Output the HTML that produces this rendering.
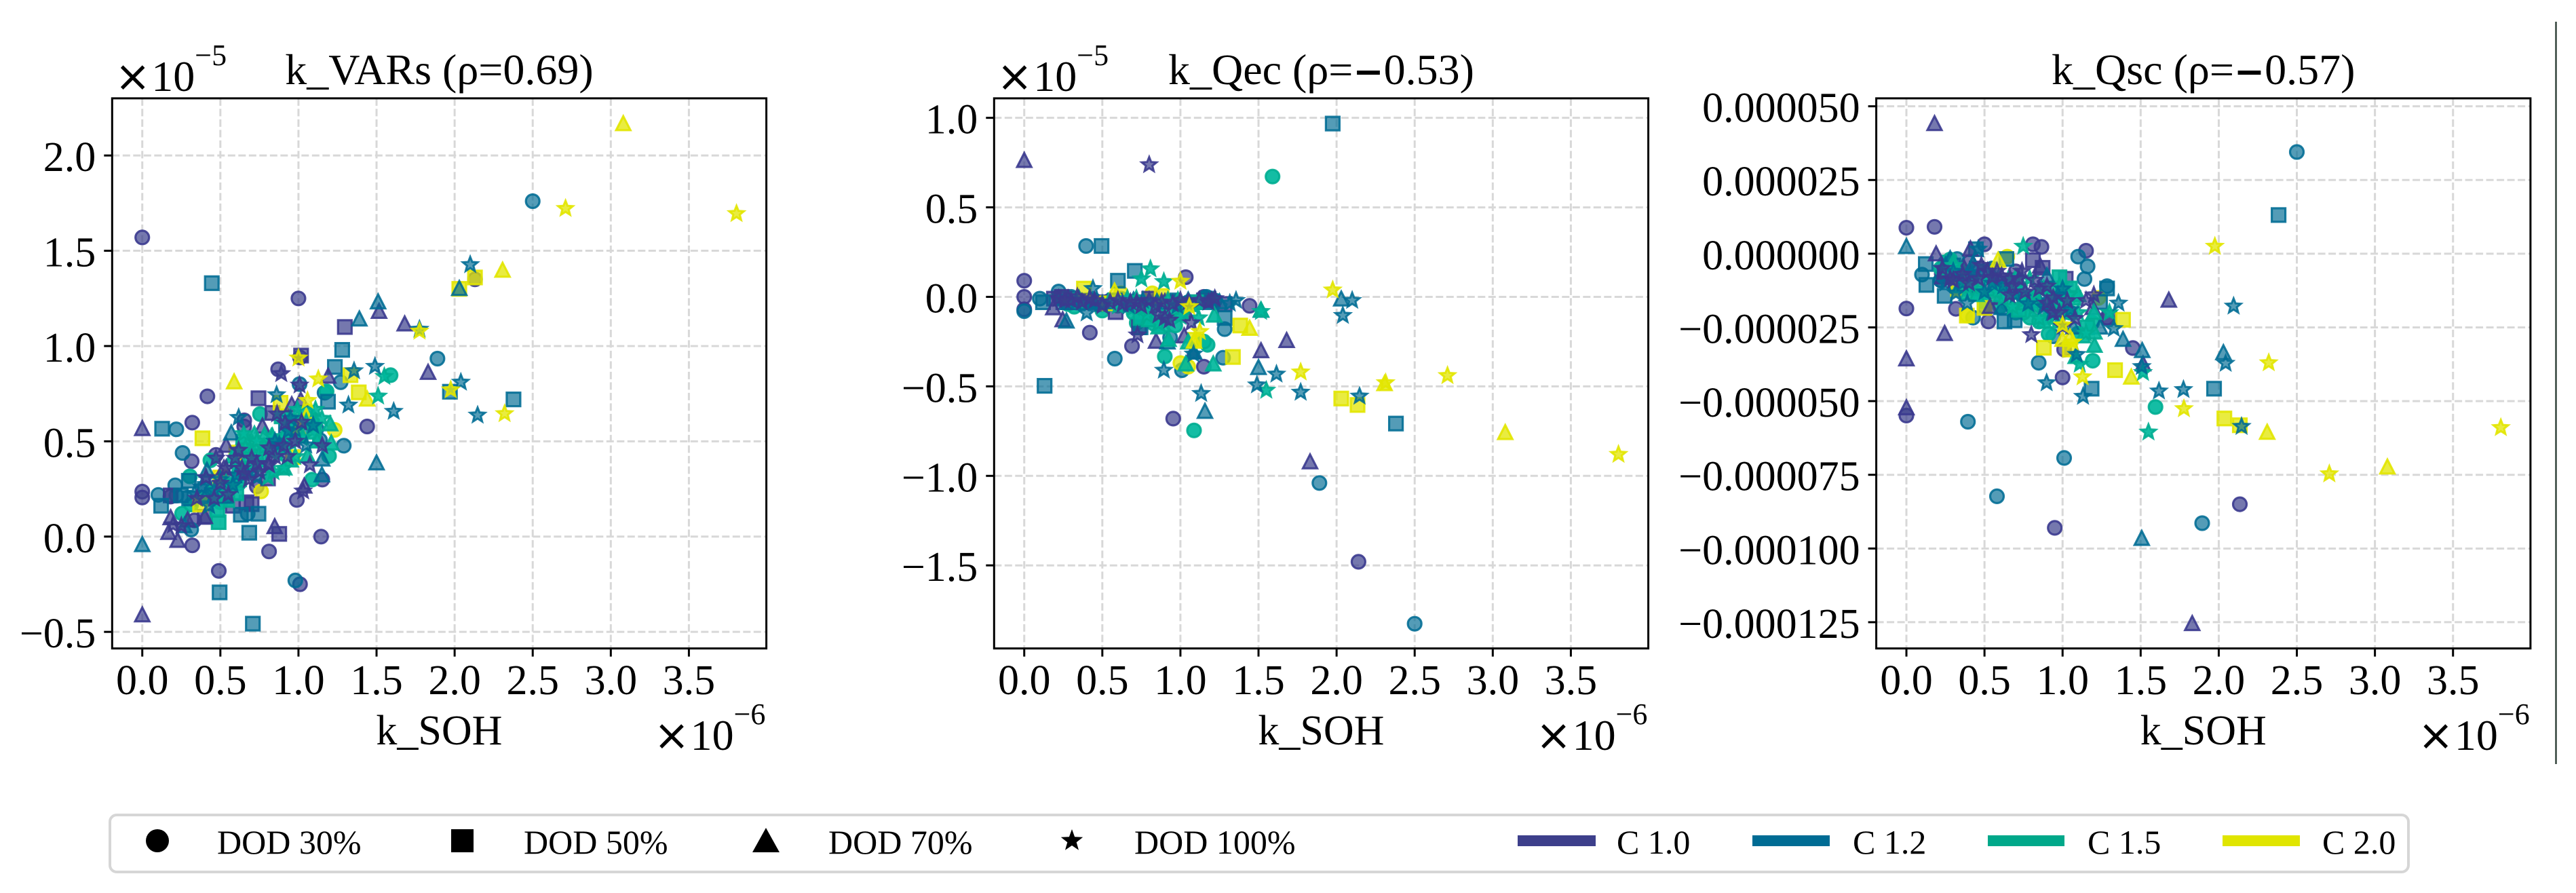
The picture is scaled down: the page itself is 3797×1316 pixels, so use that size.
<!DOCTYPE html>
<html lang="en">
<head>
<meta charset="utf-8">
<title>Correlation of k_SOH with k_VARs, k_Qec and k_Qsc</title>
<style>
html,body{margin:0;padding:0;background:#fff;}
svg{display:block;}
text{font-family:"Liberation Serif","Times New Roman",serif;fill:#000;}
</style>
</head>
<body>
<svg id="fig" xmlns="http://www.w3.org/2000/svg" width="3797" height="1316" viewBox="0 0 3797 1316">
  <rect x="0" y="0" width="3797" height="1316" fill="#fff"/>
  <line x1="3767.5" y1="32" x2="3767.5" y2="1126" stroke="#33443c" stroke-width="2.5"/>
  <g id="panels"></g>
  <g>
    <rect x="162" y="1201" width="3388" height="84" rx="10" ry="10" fill="#fff" stroke="#d6d6d6" stroke-width="4"/>
    <g>
      <circle cx="232" cy="1239" r="17" fill="#000"/>
      <text x="320" y="1258" font-size="50">DOD 30%</text>
    </g>
    <g>
      <rect x="665" y="1222" width="33" height="34" fill="#000"/>
      <text x="772" y="1258" font-size="50">DOD 50%</text>
    </g>
    <g>
      <polygon points="1129,1220 1149,1256 1109,1256" fill="#000"/>
      <text x="1221" y="1258" font-size="50">DOD 70%</text>
    </g>
    <g>
      <polygon transform="translate(1580,1239)" points="0,-17 4.1,-5.7 16.2,-5.3 6.7,2.2 10,13.8 0,7 -10,13.8 -6.7,2.2 -16.2,-5.3 -4.1,-5.7" fill="#000"/>
      <text x="1672" y="1258" font-size="50">DOD 100%</text>
    </g>
    <g>
      <rect x="2237" y="1231" width="115" height="16" fill="#3d3f8b"/>
      <text x="2383" y="1258" font-size="50">C 1.0</text>
    </g>
    <g>
      <rect x="2583" y="1231" width="114" height="16" fill="#006c94"/>
      <text x="2731" y="1258" font-size="50">C 1.2</text>
    </g>
    <g>
      <rect x="2930" y="1231" width="113" height="16" fill="#00a88a"/>
      <text x="3077" y="1258" font-size="50">C 1.5</text>
    </g>
    <g>
      <rect x="3276" y="1231" width="114" height="16" fill="#e0e500"/>
      <text x="3423" y="1258" font-size="50">C 2.0</text>
    </g>
  </g>
</svg>
<script>
const xLimits = [-0.193, 3.996];
const xTickValues = [0, 0.5, 1, 1.5, 2, 2.5, 3, 3.5];
const xTickLabels = ['0.0', '0.5', '1.0', '1.5', '2.0', '2.5', '3.0', '3.5'];

const varsLimits = [-0.587, 2.3];
const varsTickValues = [-0.5, 0, 0.5, 1, 1.5, 2];
const varsTickLabels = ['\u22120.5', '0.0', '0.5', '1.0', '1.5', '2.0'];

const qecLimits = [-1.964, 1.109];
const qecTickValues = [-1.5, -1, -0.5, 0, 0.5, 1];
const qecTickLabels = ['\u22121.5', '\u22121.0', '\u22120.5', '0.0', '0.5', '1.0'];

const qscLimits = [-133.9, 52.7];
const qscTickValues = [-125, -100, -75, -50, -25, 0, 25, 50];
const qscTickLabels = ['\u22120.000125', '\u22120.000100', '\u22120.000075', '\u22120.000050', '\u22120.000025', '0.000000', '0.000025', '0.000050'];

/* k_VARs panel: [k_SOH 1e-6, k_VARs 1e-5] */
const vars_c10_d30 = [[0,1.57],[1,1.25],[.417,.736],[.32,.598],[.316,.395],[0,.236],[0,.205],[.49,-.18],[.812,-.078],[1.01,-.25],[1.145,0],[.32,-.046],[1.44,.578],[.87,.878],[.99,.192],[2.13,1.35],[1.153,.299],[.653,.61],[.653,.578],[.472,.429],[.334,.085],[.733,.263],[.95,.583],[1.01,.94],[.18,.21]];
const vars_c12_d30 = [[2.5,1.76],[1.89,.934],[.218,.563],[.258,.439],[.103,.219],[.211,.269],[.98,-.23],[1.27,.81],[1.29,.477],[1.007,.8],[.313,.037],[1.167,.755],[1.138,.506],[1.116,.566],[.218,.216],[.675,.12],[.5,.3],[.45,.22],[.62,.28],[.7,.35],[.95,.5],[1.02,.55],[1.08,.62]];
const vars_c15_d30 = [[1.59,.847],[.754,.643],[.436,.4],[.305,.316],[.255,.121],[1.087,.299],[1.196,.423],[.92,.619],[1.18,.762],[.313,.168],[.5,.18],[.638,.358]];
const vars_c20_d30 = [[.761,.237],[1.232,.56]];
const vars_c10_d50 = [[1.297,1.1],[1.017,.95],[.744,.726],[.877,.014],[.667,.18],[.805,.305],[.182,.216],[.4,.103],[.58,.162],[.834,.649],[.7,.17]];
const vars_c12_d50 = [[.445,1.33],[1.28,.98],[1.233,.89],[1.97,.76],[2.377,.72],[.127,.566],[.121,.162],[.495,-.293],[.708,-.457],[.685,.02],[.744,.12],[.631,.115],[.298,.293],[.247,.216],[1.189,.708],[.4,.25],[.3,.2],[.55,.3],[.92,.58],[1,.6]];
const vars_c15_d50 = [[.489,.076],[.602,.227],[.544,.192],[.457,.227],[.646,.5],[.61,.405],[.892,.631],[.68,.45],[.75,.42],[.72,.38],[.8,.47],[.9,.5],[.62,.3],[.55,.27],[.98,.6],[1.05,.65],[1.1,.55],[.48,.14],[.42,.2]];
const vars_c20_d50 = [[2.03,1.3],[2.13,1.36],[.385,.516],[1.386,.757],[1.333,.847],[.37,.168],[.602,.441],[.964,.417],[.885,.702],[.5,.31]];
const vars_c10_d70 = [[0,.565],[0,-.413],[1.516,1.18],[1.68,1.114],[1.83,.86],[1.19,.84],[.957,.69],[.769,.578],[.523,.358],[.537,.477],[.848,.05],[.182,.097],[.168,.02],[.226,-.022],[1.037,.263],[.4,.103],[.29,.085],[1.015,.714]];
const vars_c12_d70 = [[0,-.044],[1.51,1.23],[1.39,1.14],[2.03,1.3],[1.5,.385],[1.152,.405],[1.15,.322],[.57,.542],[.269,.055],[.53,.21],[.407,.216],[.414,.346]];
const vars_c15_d70 = [[1.203,.59],[.909,.358],[1.058,.423],[1.21,.489],[.827,.524],[.718,.536],[.783,.53],[.537,.281],[.704,.489],[.62,.46],[.67,.41],[.95,.4],[1,.56],[.75,.4],[.85,.45],[.65,.52],[.58,.42],[1.1,.62],[1.12,.5],[.92,.55],[.47,.22]];
const vars_c20_d70 = [[.588,.81],[2.307,1.396],[3.08,2.165],[1.44,.72],[1,.566],[1.05,.63]];
const vars_c10_d100 = [[.89,.855],[1.007,.795],[.863,.643],[.914,.595],[.906,.477],[1.073,.376],[1.152,.477],[1.03,.239],[.472,.411],[.617,.453],[.595,.411],[.7,.411],[.812,.465],[.812,.376],[.638,.358],[.682,.299],[.733,.382],[.805,.382],[.197,.061],[.407,.31],[.537,.358],[.25,.056],[.5,.28],[.46,.2],[.55,.22],[.65,.33],[.75,.34],[.85,.42],[.98,.5],[1.02,.6],[.35,.2],[.93,.42]];
const vars_c12_d100 = [[2.1,1.427],[1.775,1.088],[1.356,.87],[1.49,.893],[2.04,.81],[1.61,.657],[1.32,.69],[2.147,.637],[.86,.744],[.617,.625],[.411,.305],[.602,.322],[.877,.483],[1.094,.583],[.935,.554],[.733,.31],[.428,.162],[.334,.227],[.5,.3],[.58,.27],[.67,.33],[.85,.5],[.98,.56],[1.05,.48],[.38,.26],[.46,.24],[.95,.62]];
const vars_c15_d100 = [[1.55,.84],[1.51,.737],[.805,.31],[.733,.5],[.87,.429],[.747,.429],[1.02,.518],[1.109,.667],[.993,.667],[.906,.358],[.66,.465],[.834,.524],[.7,.38],[.78,.47],[.92,.46],[.98,.42],[1.05,.6],[1.1,.58],[.65,.54],[.6,.36],[.55,.24],[1.15,.62],[1.03,.52],[.84,.34]];
const vars_c20_d100 = [[2.71,1.722],[3.805,1.695],[1.775,1.078],[1.975,.77],[2.32,.645],[1,.937],[1.127,.827],[1.058,.714]];

/* k_Qec panel: [k_SOH 1e-6, k_Qec 1e-5] */
const qec_c10_d30 = [[0,.09],[0,0],[0,-.07],[.42,-.2],[.69,-.275],[1.034,.11],[.954,-.68],[1.15,-.39],[1.443,-.05],[2.14,-1.48],[.22,0],[.65,-.02],[1.15,0],[.8,-.04],[.3,-.01]];
const qec_c12_d30 = [[.396,.284],[.1,-.01],[.22,.03],[.58,-.345],[1.283,-.18],[1.01,-.41],[1.273,-.34],[1.89,-1.04],[2.5,-1.826],[1.167,0],[.718,-.06],[.934,-.227],[.55,-.02],[0,-.08],[.3,0],[.45,-.02],[.62,-.01],[.85,-.02],[1.05,-.03],[1.22,-.02]];
const qec_c15_d30 = [[1.59,.672],[1.087,-.746],[.9,-.333],[1.174,-.268],[.967,-.16],[.32,-.055],[.5,-.077],[.72,-.145],[1.15,-.25],[.83,-.15],[.4,-.02],[.6,-.05],[.7,-.09],[.8,-.11],[.9,-.12],[.28,-.04]];
const qec_c20_d30 = [[1,-.37],[1.05,-.39],[.82,.02],[.62,.02]];
const qec_c10_d50 = [[1.283,-.04],[1.017,-.09],[.585,-.085],[.19,-.01],[.24,0],[.735,-.17],[1.15,-.02],[.33,-.02],[.5,-.03],[.92,-.03],[.28,-.03],[.42,-.03],[.66,-.04],[.8,-.01],[1.1,-.03]];
const qec_c12_d50 = [[1.975,.968],[.495,.284],[.708,.145],[.6,.09],[.13,-.497],[2.38,-.708],[1.283,-.118],[.12,-.03],[1.18,-.01],[.745,-.17],[.7,-.03],[.42,-.02],[.95,-.02],[.58,-.02],[.25,-.03],[.36,-.03],[.5,-.04],[.8,-.05],[1.05,-.04],[1.2,-.03],[.9,-.03]];
const qec_c15_d50 = [[.745,-.118],[.55,-.04],[.34,-.02],[.88,-.04],[1.1,-.03]];
const qec_c20_d50 = [[2.03,-.568],[2.134,-.604],[1.383,-.16],[1.336,-.336],[.382,.046],[.52,-.036],[1.087,-.24],[.88,.005]];
const qec_c10_d70 = [[0,.76],[1.68,-.246],[1.516,-.303],[1.83,-.924],[1.024,-.22],[.844,-.25],[.246,-.13],[.186,-.063],[1.08,-.31],[.28,-.01],[.9,-.03],[1.2,-.02]];
const qec_c12_d70 = [[2.03,-.014],[1.5,-.397],[1.157,-.642],[.27,-.137],[.917,-.254],[1.087,-.31],[1.516,-.077],[.35,-.01],[.7,-.02],[1.25,-.03],[.45,-.03],[.55,-.03],[.85,-.03],[1.05,-.02]];
const qec_c15_d70 = [[1.516,-.075],[1.21,-.377],[1.034,-.377],[.924,-.24],[1.217,-.104],[1.05,-.254],[.884,-.158],[.6,-.02],[.98,-.03],[.72,-.04],[.8,-.13],[.86,-.17]];
const qec_c20_d70 = [[1.443,-.178],[2.307,-.487],[3.08,-.76],[.578,.03],[1.087,-.25]];
const qec_c10_d100 = [[.8,.738],[.725,-.213],[.9,-.118],[1.07,-.145],[.22,-.01],[.3,-.02],[.37,-.03],[.45,-.02],[.55,-.03],[.63,-.04],[.72,-.03],[.8,-.02],[.88,-.03],[.95,-.04],[1.05,-.03],[1.12,-.02],[.86,-.1],[.93,-.13],[.26,-.02],[.42,-.01],[.34,0],[.5,-.05],[.6,-.02],[.68,-.03],[.75,-.05],[.84,-.05],[1,-.02],[1.18,-.03],[1.22,-.01]];
const qec_c12_d100 = [[2.1,-.02],[2.04,-.104],[2.147,-.555],[1.77,-.533],[1.615,-.432],[1.49,-.492],[1.133,-.54],[.894,-.41],[1.084,-.32],[.4,-.09],[.44,.046],[1.356,-.02],[1.316,-.036],[.33,-.03],[.5,-.04],[.67,-.05],[.98,-.05],[.76,-.02]];
const qec_c15_d100 = [[.808,.156],[.75,.1],[.894,.085],[1.55,-.522],[1.516,-.082],[1.117,-.118],[.785,-.104],[.718,-.01],[.984,-.02],[.54,-.03],[.86,-.15],[1.02,-.09],[.92,-.02],[.6,-.05],[.66,-.01],[.7,-.06],[.8,-.07],[.95,-.09],[1,-.11],[1.08,-.05]];
const qec_c20_d100 = [[1,.087],[1.975,.038],[2.71,-.44],[3.805,-.88],[1.77,-.42],[2.314,-.48],[1.057,-.055],[1.124,-.194]];

/* k_Qsc panel: [k_SOH 1e-6, k_Qsc 1e-6] */
const qsc_c10_d30 = [[0,8.8],[.18,9.1],[0,-18.6],[0,-54.9],[.5,3.2],[.81,3.2],[.865,2.3],[1.15,1],[1,-42],[.95,-93],[2.135,-85],[1.45,-32],[.317,-18.7],[.525,-23],[1.285,-21.7],[1.01,-32.5],[.226,-6.8],[.7,-6],[.4,-3],[.22,-9],[.42,-8],[.62,-9]];
const qsc_c12_d30 = [[2.5,34.5],[1.1,-1],[1.16,-4.3],[1.14,-8.6],[1.285,-11],[.1,-7.1],[.325,-1.8],[.847,-37],[.394,-57],[1.01,-69.3],[.58,-82.3],[1.894,-91.4],[.427,-21.7],[.94,-28],[.55,-5],[.25,-3],[.22,-9],[.32,-12],[.45,-10],[.6,-12],[.75,-15],[.9,-17],[1,-18],[.5,-18],[.85,-20]];
const qsc_c15_d30 = [[1.595,-52],[1.193,-36.3],[.91,-27.2],[.79,-21.7],[1.19,-23.4],[.646,-16.8],[.32,-6.8],[.22,-5],[.7,-20],[1.05,-20],[.28,-2],[.4,-8],[.6,-18],[.75,-20],[.85,-23],[1.1,-27]];
const qsc_c20_d30 = [[.646,-1],[1.23,-15],[.39,-21]];
const qsc_c10_d50 = [[.81,-2.2],[.872,-4.8],[1.02,-8.5],[1.3,-21.7],[.245,-6.8],[.54,-11.8],[.45,-5],[.7,-9]];
const qsc_c12_d50 = [[.124,-3.5],[.128,-10.6],[.245,-14.3],[.445,1.5],[2.383,13.1],[1.97,-45.8],[1.186,-45.8],[.628,-23],[.693,-22.6],[1.24,-16.4],[1.285,-11.8],[.64,-1.8],[.3,-4],[.5,-6]];
const qsc_c15_d50 = [[1.047,-11.8],[1.157,-25],[.92,-11.8],[.463,-13.4],[.34,-8],[.66,-12],[.8,-15],[1.07,-15],[.27,-3],[.33,-6],[.5,-16],[.72,-19],[.95,-17],[.98,-8]];
const qsc_c20_d50 = [[.387,-21],[.88,-31.9],[1.336,-39.5],[1.387,-22.4],[2.036,-55.9],[2.135,-58.2],[.5,-18.4],[1.047,-32.5],[.33,-12]];
const qsc_c10_d70 = [[.18,44],[0,-35.8],[0,-52.4],[.245,-27.2],[1.68,-15.9],[1.83,-125.6],[.19,-.2],[.41,1.5],[1.515,-37.5],[.536,-18],[.974,-15],[1.193,-18.4],[.857,-4.3],[.23,-8],[.37,-5],[.6,-15]];
const qsc_c12_d70 = [[0,2.3],[1.51,-33],[2.03,-33.7],[1.507,-96.7],[1.387,-29.2],[.9,-7.6],[.28,-1.8],[.61,-18.4],[.427,-3.5],[1.07,-25],[1.24,-25],[.25,-4],[.32,-7],[.42,-12],[.55,-7],[.75,-12],[.85,-16]];
const qsc_c15_d70 = [[1.204,-31.2],[1.204,-26.7],[1.084,-35],[.9,-21.7],[.39,-13.4],[1.047,-20],[.755,-16.8],[.55,-12],[.6,-14],[1.2,-20],[1.1,-14],[.28,-5],[.34,-11],[.45,-14],[.7,-13],[.88,-23],[1,-16],[.98,-23],[1.13,-28],[.3,-3]];
const qsc_c20_d70 = [[.587,-2.3],[1.44,-42],[2.31,-60.7],[3.08,-72.5],[1,-29.2],[1.047,-28.4]];
const qsc_c10_d100 = [[.8,-27.5],[1.15,-15.9],[1,-24.7],[.61,-7.6],[.72,-8.5],[.9,-16.8],[.28,-8.5],[.46,-8.5],[.664,-8.5],[.94,-20],[.52,-6],[.4,-10],[.76,-13],[.85,-12],[1.08,-22],[.66,-14],[.23,-5],[.3,-9],[.36,-7],[.48,-4],[.55,-8],[.58,-6],[.68,-11],[.74,-6],[.9,-11],[.98,-20],[1.03,-16],[.82,-9],[.94,-15],[1.2,-14]];
const qsc_c12_d100 = [[2.095,-17.8],[2.044,-37.2],[1.358,-16.8],[1.617,-46.6],[1.774,-46.1],[2.146,-58.6],[.898,-43.8],[1.131,-48.4],[1.507,-38.3],[1.09,-34.2],[1.328,-25.4],[.39,-16.8],[.317,-13.4],[.46,1.5],[.36,-10],[.55,-10],[.88,-18],[.97,-14],[.3,-6],[.25,-10],[.42,-7],[.5,-13],[.62,-11],[.7,-14],[.78,-17],[.93,-20],[1,-12],[1.05,-19]];
const qsc_c15_d100 = [[.748,2.5],[1.55,-60.5],[1.515,-40.3],[1.11,-37.5],[1.3,-20],[.83,-13.4],[.974,-16.8],[.72,-11.8],[.79,-8.5],[.62,-15],[.68,-18],[.88,-12],[1.04,-14],[.3,-4],[.42,-11],[.52,-9],[.58,-13],[.65,-9],[.75,-16],[.82,-18],[.7,-8],[.95,-21],[.98,-11],[1.1,-20],[1.15,-27],[.85,-22]];
const qsc_c20_d100 = [[1.975,2.5],[2.32,-37],[1.777,-52.6],[1.128,-41.8],[2.708,-74.7],[3.806,-59],[1,-24.2],[1.065,-30]];

const markerStyles = {
  c10: {fill: '#3b3f8c', fillOpacity: 0.7, stroke: '#3b3a8f', strokeOpacity: 0.9},
  c12: {fill: '#006c94', fillOpacity: 0.67, stroke: '#006c94', strokeOpacity: 0.88},
  c15: {fill: '#00b79c', fillOpacity: 0.92, stroke: '#00ad91', strokeOpacity: 0.9},
  c20: {fill: '#e2e600', fillOpacity: 0.75, stroke: '#e2e600', strokeOpacity: 0.9}
};

const panels = [
  {name: 'k-vars', left: 165.3, limits: varsLimits, tickValues: varsTickValues, tickLabels: varsTickLabels, title: 'k_VARs (\u03c1=0.69)', minus: false, offset: '\u22125',
   series: [['c10','circle',vars_c10_d30],['c12','circle',vars_c12_d30],['c15','circle',vars_c15_d30],['c20','circle',vars_c20_d30],
            ['c10','square',vars_c10_d50],['c12','square',vars_c12_d50],['c15','square',vars_c15_d50],['c20','square',vars_c20_d50],
            ['c10','triangle',vars_c10_d70],['c12','triangle',vars_c12_d70],['c15','triangle',vars_c15_d70],['c20','triangle',vars_c20_d70],
            ['c15','star',vars_c15_d100],['c12','star',vars_c12_d100],['c10','star',vars_c10_d100],['c20','star',vars_c20_d100]]},
  {name: 'k-qec', left: 1465.3, limits: qecLimits, tickValues: qecTickValues, tickLabels: qecTickLabels, title: ['k_Qec (\u03c1=', '0.53)'], minus: true, offset: '\u22125',
   series: [['c10','circle',qec_c10_d30],['c12','circle',qec_c12_d30],['c15','circle',qec_c15_d30],['c20','circle',qec_c20_d30],
            ['c10','square',qec_c10_d50],['c12','square',qec_c12_d50],['c15','square',qec_c15_d50],['c20','square',qec_c20_d50],
            ['c10','triangle',qec_c10_d70],['c12','triangle',qec_c12_d70],['c15','triangle',qec_c15_d70],['c20','triangle',qec_c20_d70],
            ['c15','star',qec_c15_d100],['c12','star',qec_c12_d100],['c10','star',qec_c10_d100],['c20','star',qec_c20_d100]]},
  {name: 'k-qsc', left: 2765.6, limits: qscLimits, tickValues: qscTickValues, tickLabels: qscTickLabels, title: ['k_Qsc (\u03c1=', '0.57)'], minus: true, offset: null,
   series: [['c10','circle',qsc_c10_d30],['c12','circle',qsc_c12_d30],['c15','circle',qsc_c15_d30],['c20','circle',qsc_c20_d30],
            ['c10','square',qsc_c10_d50],['c12','square',qsc_c12_d50],['c15','square',qsc_c15_d50],['c20','square',qsc_c20_d50],
            ['c10','triangle',qsc_c10_d70],['c12','triangle',qsc_c12_d70],['c15','triangle',qsc_c15_d70],['c20','triangle',qsc_c20_d70],
            ['c15','star',qsc_c15_d100],['c12','star',qsc_c12_d100],['c10','star',qsc_c10_d100],['c20','star',qsc_c20_d100]]}
];

const NS = 'http://www.w3.org/2000/svg';
const plotWidth = 964.3;
const plotTop = 144.9;
const plotBottom = 955.6;

function mk(parent, tag, attrs, txt) {
  const el = document.createElementNS(NS, tag);
  for (const k in attrs) el.setAttribute(k, attrs[k]);
  if (txt !== undefined) el.textContent = txt;
  parent.appendChild(el);
  return el;
}

function starPoints(cx, cy, R, r) {
  const pts = [];
  for (let i = 0; i < 10; i++) {
    const rad = i % 2 === 0 ? R : r;
    const a = -Math.PI / 2 + i * Math.PI / 5;
    pts.push((cx + rad * Math.cos(a)).toFixed(1) + ',' + (cy + rad * Math.sin(a)).toFixed(1));
  }
  return pts.join(' ');
}

function drawMarker(parent, shape, cx, cy, style) {
  const paint = {
    fill: style.fill, 'fill-opacity': style.fillOpacity,
    stroke: style.stroke, 'stroke-opacity': style.strokeOpacity, 'stroke-width': 3.2
  };
  let el;
  if (shape === 'circle') {
    el = mk(parent, 'circle', Object.assign({cx: cx.toFixed(1), cy: cy.toFixed(1), r: 10}, paint));
  } else if (shape === 'square') {
    el = mk(parent, 'rect', Object.assign({x: (cx - 10).toFixed(1), y: (cy - 10).toFixed(1), width: 20, height: 20}, paint));
  } else if (shape === 'triangle') {
    const p = [(cx).toFixed(1) + ',' + (cy - 11.5).toFixed(1), (cx + 10.5).toFixed(1) + ',' + (cy + 9).toFixed(1), (cx - 10.5).toFixed(1) + ',' + (cy + 9).toFixed(1)].join(' ');
    el = mk(parent, 'polygon', Object.assign({points: p}, paint));
  } else {
    el = mk(parent, 'polygon', Object.assign({points: starPoints(cx, cy, 11.5, 5)}, paint, {'stroke-width': 3}));
  }
  return el;
}

function drawExponent(parent, name, axLeft, baseline, exponent) {
  const cross = mk(parent, 'text', {x: axLeft - 1, y: baseline, 'font-size': 63, style: 'font-family:"DejaVu Sans",sans-serif'}, '\u00d7');
  
  
  const ten = mk(parent, 'text', {x: axLeft + 53, y: baseline, 'font-size': 64}, '10');
  
  
  const sup = mk(parent, 'text', {x: axLeft + 117, y: baseline - 38, 'font-size': 44}, exponent);
  
  
}

const root = document.getElementById('panels');

panels.forEach(function (pn) {
  const left = pn.left;
  const right = left + plotWidth;
  const xScale = function (v) { return left + (v - xLimits[0]) / (xLimits[1] - xLimits[0]) * plotWidth; };
  const yScale = function (v) { return plotBottom - (v - pn.limits[0]) / (pn.limits[1] - pn.limits[0]) * (plotBottom - plotTop); };

  const g = mk(root, 'g', {});
  
  

  const grid = mk(g, 'g', {stroke: '#d8d8d8', 'stroke-width': 3, 'stroke-dasharray': '11 4.5', fill: 'none'});
  
  
  xTickValues.forEach(function (v) {
    const l = mk(grid, 'line', {x1: xScale(v), x2: xScale(v), y1: plotTop, y2: plotBottom});
    
    
  });
  pn.tickValues.forEach(function (v) {
    const l = mk(grid, 'line', {x1: left, x2: right, y1: yScale(v), y2: yScale(v)});
    
    
  });

  const marks = mk(g, 'g', {});
  
  
  pn.series.forEach(function (s) {
    const style = markerStyles[s[0]];
    s[2].forEach(function (pt) {
      const m = drawMarker(marks, s[1], xScale(pt[0]), yScale(pt[1]), style);
      
      
    });
  });

  const frame = mk(g, 'rect', {x: left, y: plotTop, width: plotWidth, height: plotBottom - plotTop, fill: 'none', stroke: '#000', 'stroke-width': 3});
  
  

  xTickValues.forEach(function (v, i) {
    const t = mk(g, 'line', {x1: xScale(v), x2: xScale(v), y1: plotBottom, y2: plotBottom + 12, stroke: '#000', 'stroke-width': 3});
    
    
    const lab = mk(g, 'text', {x: xScale(v), y: 1023, 'font-size': 62, 'text-anchor': 'middle'}, xTickLabels[i]);
    
    
  });
  pn.tickValues.forEach(function (v, i) {
    const t = mk(g, 'line', {x1: left - 12, x2: left, y1: yScale(v), y2: yScale(v), stroke: '#000', 'stroke-width': 3});
    
    
    const lab = mk(g, 'text', {x: left - 24, y: yScale(v) + 23, 'font-size': 62, 'text-anchor': 'end'}, pn.tickLabels[i]);
    
    
  });

  const center = left + plotWidth / 2;
  const title = mk(g, 'text', {x: center, y: 124, 'font-size': 64, 'text-anchor': 'middle'});
  
  
  if (pn.minus) {
    mk(title, 'tspan', {}, pn.title[0]);
    mk(title, 'tspan', {style: 'font-family:"DejaVu Sans",sans-serif;font-weight:bold', 'font-size': 54}, '\u2212');
    mk(title, 'tspan', {}, pn.title[1]);
  } else {
    title.textContent = pn.title;
  }

  const xl = mk(g, 'text', {x: center, y: 1097, 'font-size': 62, 'text-anchor': 'middle'}, 'k_SOH');
  
  

  drawExponent(g, pn.name + '-x-offset', right - 165, 1105, '\u22126');
  if (pn.offset) {
    drawExponent(g, pn.name + '-y-offset', left + 5, 134, pn.offset);
  }
});
</script>
</body>
</html>
